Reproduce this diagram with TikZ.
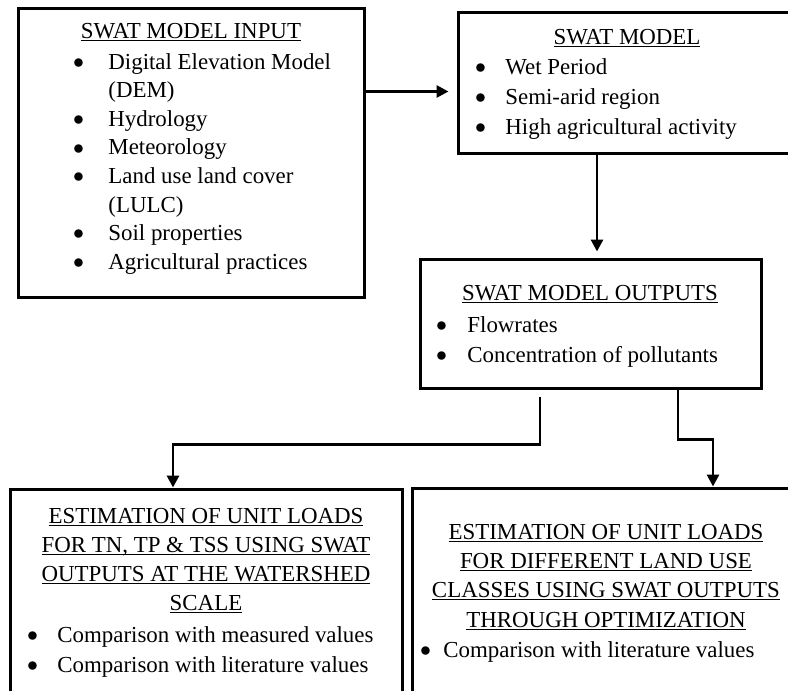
\documentclass[tikz,border=0pt]{standalone}
\usepackage{fontspec}
\setmainfont{Liberation Serif}
\usetikzlibrary{arrows.meta,fit,positioning}

\newlength\ulwd
\newcommand{\ulin}[1]{\settowidth{\ulwd}{#1}\rlap{\rule[-1.6pt]{\ulwd}{0.7pt}}#1}
\newcommand{\bul}[1]{\llap{\raisebox{0.4pt}{$\bullet$}\hspace{#1}}}

\tikzset{
  box/.style={draw, line width=1.5pt, inner sep=0pt},
  ttl/.style={anchor=base, inner sep=0pt},
  lst/.style={anchor=base west, inner sep=0pt},
  arr/.style={line width=1.45pt, -{Triangle[length=6pt,width=6pt]}}
}

\begin{document}
\begin{tikzpicture}[x=0.5pt, y=-0.5pt, font=\fontsize{11.45}{15}\selectfont]
      \clip (0,0) rectangle (788,691);

      % boxes
      \node[box, fit={(18,8) (364,297)}] (inp) {};
      \node[box, fit={(458,12) (796,153)}] (swat) {};
      \node[box, fit={(420,259) (761,388)}] (outp) {};
      \node[box, fit={(10,489) (402,720)}] (unitws) {};
      \node[box, fit={(412,488) (800,720)}] (unitlu) {};

      % model input
      \node[ttl] (inpT) at (191,38) {\ulin{SWAT MODEL INPUT}};
      \node[lst, font=\fontsize{11.45}{14.3}\selectfont] (inpL) at (108,69) {\begin{tabular}[t]{@{}l@{}}
        \bul{12.2pt}Digital Elevation Model\\
        (DEM)\\
        \bul{12.2pt}Hydrology\\
        \bul{12.2pt}Meteorology\\
        \bul{12.2pt}Land use land cover\\
        (LULC)\\
        \bul{12.2pt}Soil properties\\
        \bul{12.2pt}Agricultural practices
      \end{tabular}};

      % model
      \node[ttl] (swatT) at (627,44) {\ulin{SWAT MODEL}};
      \node[lst] (swatL) at (505,74) {\begin{tabular}[t]{@{}l@{}}
        \bul{9.7pt}Wet Period\\
        \bul{9.7pt}Semi-arid region\\
        \bul{9.7pt}High agricultural activity
      \end{tabular}};

      % outputs
      \node[ttl] (outpT) at (590,300) {\ulin{SWAT MODEL OUTPUTS}};
      \node[lst] (outpL) at (467,332) {\begin{tabular}[t]{@{}l@{}}
        \bul{10.2pt}Flowrates\\
        \bul{10.2pt}Concentration of pollutants
      \end{tabular}};

      % unit loads, watershed scale
      \node[ttl] (wsT1) at (206,523) {\ulin{ESTIMATION OF UNIT LOADS}};
      \node[ttl] (wsT2) at (206,552) {\ulin{FOR TN, TP \& TSS USING SWAT}};
      \node[ttl] (wsT3) at (206,581) {\ulin{OUTPUTS AT THE WATERSHED}};
      \node[ttl] (wsT4) at (206,610) {\ulin{SCALE}};
      \node[lst] (wsL) at (57,642) {\begin{tabular}[t]{@{}l@{}}
        \bul{9.7pt}Comparison with measured values\\
        \bul{9.7pt}Comparison with literature values
      \end{tabular}};

      % unit loads, land use classes
      \node[ttl] (luT1) at (606,539) {\ulin{ESTIMATION OF UNIT LOADS}};
      \node[ttl] (luT2) at (606,568) {\ulin{FOR DIFFERENT LAND USE}};
      \node[ttl] (luT3) at (606,597) {\ulin{CLASSES USING SWAT OUTPUTS}};
      \node[ttl] (luT4) at (606,627) {\ulin{THROUGH OPTIMIZATION}};
      \node[lst] (luL) at (443,657) {\bul{6.2pt}Comparison with literature values};

      % connectors
      \draw[arr, shorten >=4pt] (inp.north east) ++(0,85) coordinate (a1) -- (a1 -| swat.west);
      \draw[arr, shorten >=3pt] ([xshift=-15pt]swat.south) -- ([xshift=-15pt]swat.south |- outp.north);
      \draw[arr] ([xshift=-25.25pt]outp.south) ++(0,7) -- ++(0,48) -| ([xshift=-16.5pt]unitws.north);
      \draw[arr] ([xshift=43.75pt]outp.south) -- ++(0,50) -| ([xshift=53.5pt]unitlu.north);
\end{tikzpicture}
\end{document}
